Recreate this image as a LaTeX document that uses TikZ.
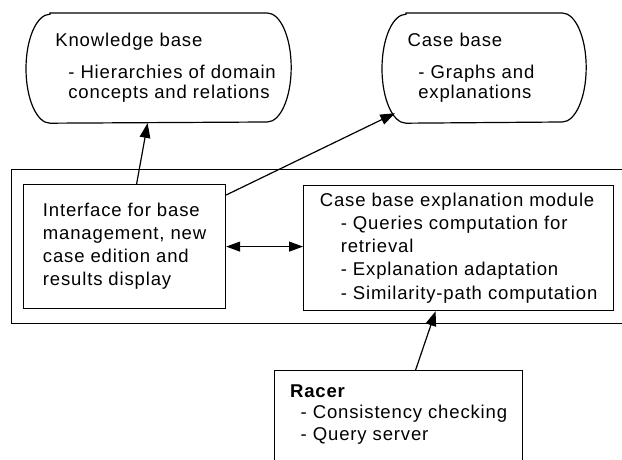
\documentclass[tikz,border=0pt]{standalone}
\usepackage{fontspec}
\setmainfont{Liberation Sans}[LetterSpace=4.5]
\usetikzlibrary{arrows.meta}

% Outline of a store with elliptic ends
\newcommand{\storeoutline}[1]{%
  \draw ([xshift=18pt]#1.north west) -- ([xshift=-18pt]#1.north east)
    arc[start angle=90, end angle=-90, x radius=18pt, y radius=40.875pt]
    -- ([xshift=18pt]#1.south west)
    arc[start angle=270, end angle=90, x radius=18pt, y radius=40.875pt]
    -- cycle;}

\tikzset{
    store/.style={
        anchor=north west,
        minimum width=#1,
        minimum height=81.75pt,
        align=left,
        inner sep=0pt,
        font=\fontsize{13.9}{15.5}\selectfont
    },
    module/.style={
        draw,
        anchor=north west,
        align=left,
        font=\fontsize{13.9}{17.3}\selectfont
    },
    link/.style={-{Triangle[length=11pt,width=8pt]}},
    twoway/.style={{Triangle[length=10.5pt,width=7.5pt]}-{Triangle[length=10.5pt,width=7.5pt]}},
}

\begin{document}
\begin{tikzpicture}[x=0.75pt,y=0.75pt,line width=0.9pt]
\useasboundingbox (0,0) rectangle (622,460);
\clip (0,0) rectangle (622,460);
% Stores
\node[store=198pt] (kb) at (26,447)
    {\hspace*{10.5pt}Knowledge base\\[8pt]\hspace*{20.25pt}- Hierarchies of domain\\\hspace*{20.25pt}concepts and relations};
\storeoutline{kb}
\node
[
    store=152.25pt,
    text width=114.75pt,
    inner xsep=18.75pt
] (cb) at (382,447)
    {Case base\\[8pt]\hspace*{8pt}- Graphs and\\\hspace*{8pt}explanations};
\storeoutline{cb}
% Application frame
\node
[
    draw,
    anchor=north west,
    minimum width=471.75pt,
    minimum height=115.5pt
] (app) at (11,291) {};
\node[module, minimum width=151.5pt, minimum height=93pt] (iface) at (23,276)
    {Interface for base\\management, new\\case edition and\\results display};
\node[module, minimum width=232.5pt, minimum height=93.75pt] (cbem) at (303,275)
    {Case base explanation module\\\hspace*{15.75pt}- Queries computation for\\\hspace*{15.75pt}retrieval\\\hspace*{15.75pt}- Explanation adaptation\\\hspace*{15.75pt}- Similarity-path computation};
% Reasoner
\node
[
    module,
    minimum width=186pt,
    inner ysep=10.5pt,
    text depth=80pt,
    font=\fontsize{13.9}{16}\selectfont
] (racer) at (274,90)
    {\textbf{Racer}\\\hspace*{8pt}- Consistency checking\\\hspace*{8pt}- Query server};
% Connectors
\draw[link] ([xshift=9pt]iface.north) -- ([xshift=-8.25pt]kb.south);
\draw[link] ([yshift=-8.25pt]iface.north east) -- ([xshift=9.75pt,yshift=7.5pt]cb.south west);
\draw[twoway] (iface.east) -- (iface.east -| cbem.west);
\draw[link] ([xshift=12.75pt]racer.north) -- ([xshift=-17.25pt]cbem.south);
\end{tikzpicture}
\end{document}
